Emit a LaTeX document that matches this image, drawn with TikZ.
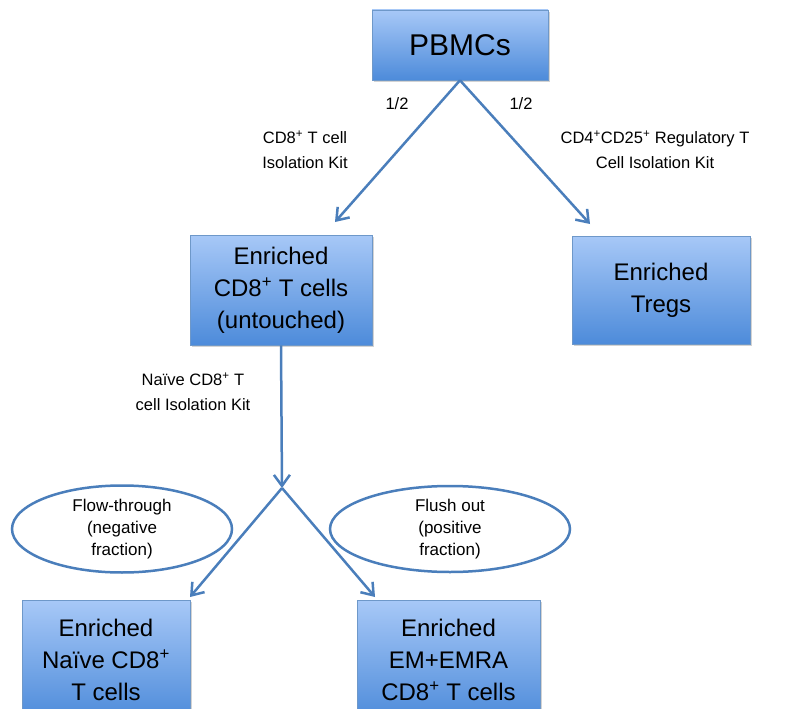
\documentclass[tikz,border=0pt]{standalone}
\usepackage{fontspec}
\setmainfont{Liberation Sans}
\usetikzlibrary{arrows.meta,shapes.geometric,shadows}
\definecolor{lineblue}{HTML}{4A7EBB}
\definecolor{boxtop}{HTML}{A7C8F7}
\definecolor{boxbot}{HTML}{4D8BDA}
\tikzset{
  bluebox/.style={draw=lineblue!80, line width=0.6pt, top color=boxtop, bottom color=boxbot,
    align=center, inner sep=0pt, font=\fontsize{24}{32}\selectfont,
    drop shadow={shadow xshift=2pt, shadow yshift=-2pt, opacity=0.35}},
  conn/.style={draw=lineblue, line width=2.5pt, -{Straight Barb[length=11pt,width=16pt,line width=2.5pt]}},
  lbl/.style={align=center, font=\fontsize{16.5}{25}\selectfont},
  oval/.style={ellipse, draw=lineblue, line width=2.5pt, align=center, inner sep=0pt,
    font=\fontsize{17}{22}\selectfont}
}
\begin{document}
\begin{tikzpicture}[x=1pt,y=1pt]
\useasboundingbox (0,0) rectangle (785,-709);
\clip (0,0) rectangle (785,-709);
% boxes
\node[bluebox, minimum width=176pt, minimum height=70pt, font=\fontsize{30}{36}\selectfont] (pbmc) at (460,-45) {PBMCs};
\node[bluebox, minimum width=182pt, minimum height=110pt] (cd8) at (281,-290) {Enriched\\CD8\textsuperscript{+} T cells\\(untouched)};
\node[bluebox, minimum width=178pt, minimum height=108pt] (treg) at (661,-290) {Enriched\\Tregs};
\node[bluebox, minimum width=168pt, minimum height=120pt, anchor=north] (naive) at (106,-600) {Enriched\\Naïve CD8\textsuperscript{+}\\T cells};
\node[bluebox, minimum width=183pt, minimum height=120pt, anchor=north] (em) at (448.5,-600) {Enriched\\EM+EMRA\\CD8\textsuperscript{+} T cells};
% ellipses
\node[oval, minimum width=220pt, minimum height=87pt] (flow) at (122,-529) {Flow-through\\(negative\\fraction)};
\node[oval, minimum width=240pt, minimum height=86pt] (flush) at (450,-529) {Flush out\\(positive\\fraction)};
% coordinates
\coordinate (tipL) at (335,-222);
\coordinate (tipR) at (590,-224);
\coordinate (junc) at (282,-488);
\coordinate (tipBL) at (190,-597);
\coordinate (tipBR) at (375,-597);
% connectors
\draw[conn] (pbmc.south) -- (tipL);
\draw[conn] (pbmc.south) -- (tipR);
\draw[conn] (cd8.south) -- (junc);
\draw[conn] (junc) -- (tipBL);
\draw[conn] (junc) -- (tipBR);
% labels
\node[lbl] (h1) at (397,-104) {1/2};
\node[lbl] (h2) at (521,-104) {1/2};
\node[lbl] (kit1) at (305,-150) {CD8\textsuperscript{+} T cell\\Isolation Kit};
\node[lbl] (kit2) at (655,-150) {CD4\textsuperscript{+}CD25\textsuperscript{+} Regulatory T\\Cell Isolation Kit};
\node[lbl] (kit3) at (193,-392) {Naïve CD8\textsuperscript{+} T\\cell Isolation Kit};
\end{tikzpicture}
\end{document}
